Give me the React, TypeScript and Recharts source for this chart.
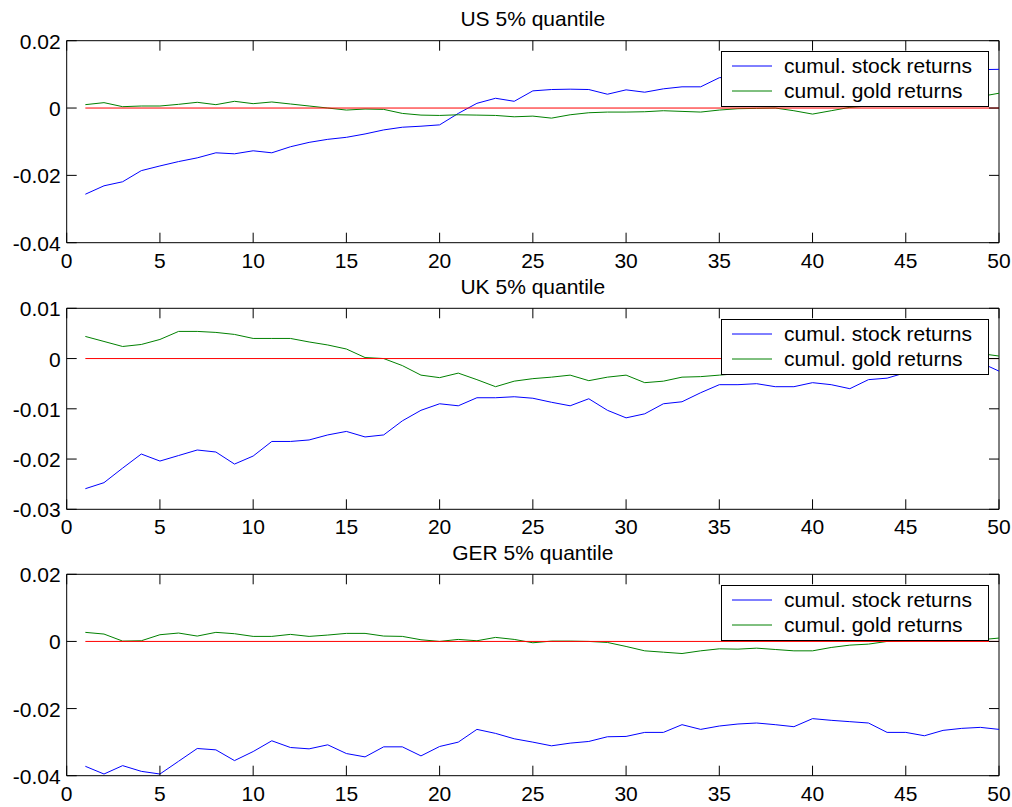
import React from 'react';
import { LineChart, Line, XAxis, YAxis, ReferenceLine, ReferenceArea, Legend } from 'recharts';

const steps = [
    1, 2, 3, 4, 5, 6, 7, 8, 9, 10, 11, 12, 13, 14, 15, 16, 17, 18, 19, 20, 21, 22, 23, 24, 25,
    26, 27, 28, 29, 30, 31, 32, 33, 34, 35, 36, 37, 38, 39, 40, 41, 42, 43, 44, 45, 46, 47, 48, 49, 50,
];
const xTicks = [0, 5, 10, 15, 20, 25, 30, 35, 40, 45, 50];

const usStock = [
    -0.0256, -0.0231, -0.0219, -0.0186, -0.0172, -0.0159, -0.0148, -0.0133, -0.0136, -0.0127,
    -0.0133, -0.0115, -0.0102, -0.0093, -0.0087, -0.0077, -0.0065, -0.0057, -0.0054, -0.005,
    -0.0016, 0.0014, 0.0029, 0.002, 0.0051, 0.0055, 0.0056, 0.0055, 0.0041, 0.0054,
    0.0047, 0.0057, 0.0063, 0.0063, 0.009, 0.0095, 0.01, 0.0104, 0.0098, 0.0102,
    0.0108, 0.0106, 0.0111, 0.0115, 0.011, 0.0113, 0.0117, 0.0112, 0.0114, 0.0115,
];
const usGold = [
    0.001, 0.0016, 0.0004, 0.0006, 0.0006, 0.0011, 0.0017, 0.001, 0.002, 0.0013,
    0.0018, 0.0012, 0.0006, 0.0, -0.0006, -0.0003, -0.0004, -0.0016, -0.0021, -0.0022,
    -0.002, -0.0021, -0.0022, -0.0026, -0.0024, -0.003, -0.002, -0.0014, -0.0012, -0.0012,
    -0.0011, -0.0008, -0.001, -0.0012, -0.0006, -0.0002, -0.0001, 0.0, -0.0008, -0.0018,
    -0.0008, 0.0002, 0.0006, 0.001, 0.0013, 0.0016, 0.0021, 0.0027, 0.0034, 0.0044,
];

const ukStock = [
    -0.0259, -0.0247, -0.0218, -0.019, -0.0204, -0.0193, -0.0182, -0.0186, -0.021, -0.0194,
    -0.0165, -0.0165, -0.0162, -0.0152, -0.0145, -0.0156, -0.0152, -0.0124, -0.0103, -0.009,
    -0.0094, -0.0078, -0.0078, -0.0076, -0.0079, -0.0087, -0.0094, -0.008, -0.0103, -0.0118,
    -0.011, -0.009, -0.0086, -0.0068, -0.0052, -0.0052, -0.005, -0.0056, -0.0056, -0.0048,
    -0.0052, -0.006, -0.0042, -0.0039, -0.0028, -0.0022, -0.0018, -0.0012, -0.0008, -0.0025,
];
const ukGold = [
    0.0044, 0.0034, 0.0024, 0.0028, 0.0038, 0.0054, 0.0054, 0.0052, 0.0048, 0.004,
    0.004, 0.004, 0.0033, 0.0027, 0.0019, 0.0002, 0.0, -0.0014, -0.0033, -0.0038,
    -0.0029, -0.0042, -0.0056, -0.0045, -0.004, -0.0037, -0.0033, -0.0044, -0.0037, -0.0033,
    -0.0048, -0.0045, -0.0037, -0.0036, -0.0033, -0.003, -0.0027, -0.0025, -0.002, -0.0017,
    -0.0014, -0.0011, -0.0008, -0.0005, -0.0002, 0.0001, 0.0003, 0.0005, 0.001, 0.0005,
];

const gerStock = [
    -0.0372, -0.0395, -0.037, -0.0387, -0.0395, -0.0357, -0.0319, -0.0323, -0.0355, -0.0328,
    -0.0296, -0.0316, -0.032, -0.0308, -0.0334, -0.0344, -0.0314, -0.0314, -0.0341, -0.0313,
    -0.03, -0.0262, -0.0274, -0.029, -0.03, -0.0311, -0.0303, -0.0298, -0.0284, -0.0283,
    -0.0271, -0.0271, -0.0248, -0.0262, -0.0252, -0.0246, -0.0243, -0.0248, -0.0254, -0.023,
    -0.0235, -0.0239, -0.0243, -0.0271, -0.0271, -0.0281, -0.0265, -0.0259, -0.0256, -0.0262,
];
const gerGold = [
    0.0027, 0.0022, 0.0001, 0.0002, 0.002, 0.0025, 0.0016, 0.0027, 0.0023, 0.0015,
    0.0015, 0.0021, 0.0015, 0.0019, 0.0024, 0.0024, 0.0016, 0.0015, 0.0005, 0.0,
    0.0006, 0.0002, 0.0012, 0.0006, -0.0004, 0.0001, 0.0001, 0.0, -0.0003, -0.0015,
    -0.0028, -0.0032, -0.0036, -0.0028, -0.0022, -0.0023, -0.002, -0.0024, -0.0028, -0.0028,
    -0.0018, -0.0011, -0.0008, 0.0, 0.0002, 0.0003, 0.0002, 0.0004, 0.0005, 0.001,
];

const usTicks = [-0.04, -0.02, 0, 0.02];
const ukTicks = [-0.03, -0.02, -0.01, 0, 0.01];
const gerTicks = [-0.04, -0.02, 0, 0.02];

const FONT = '"Liberation Sans", Arial, Helvetica, sans-serif';
const FS = 21;
const WIDTH = 1012;
const LEFT = 66.7;
const RIGHT = 13;
const PLOT_W = WIDTH - LEFT - RIGHT;
const TICK = 10;
const AXIS = 2; // thin axis band so the ticks get drawn

const fmtY = (v: number) => (v === 0 ? '0' : v.toFixed(2));

const LegendBox = () => (
    <div
        style={{
            width: 268,
            height: 56,
            boxSizing: 'border-box',
            border: '1px solid #000',
            background: '#fff',
        }}
    >
        <svg width={266} height={54} style={{ display: 'block' }}>
            <line x1={10} y1={14} x2={50} y2={14} stroke="#0000ff" />
            <text x={62} y={21} fontSize={FS} fontFamily={FONT} fill="#000">cumul. stock returns</text>
            <line x1={10} y1={39} x2={50} y2={39} stroke="#008000" />
            <text x={62} y={46} fontSize={FS} fontFamily={FONT} fill="#000">cumul. gold returns</text>
        </svg>
    </div>
);

interface PanelProps {
    title: string;
    stock: number[];
    gold: number[];
    yTicks: number[];
    top: number;
    height: number;
    marginTop: number;
    marginBottom: number;
}

const Panel: React.FC<PanelProps> = ({ title, stock, gold, yTicks, top, height, marginTop, marginBottom }) => {
    const data = steps.map((s, i) => ({ step: s, stock: stock[i], gold: gold[i] }));
    const plotH = height - marginTop - marginBottom;
    const yMin = yTicks[0];
    const yMax = yTicks[yTicks.length - 1];

    const renderXTick = (p: any) => (
        <g>
            <line x1={p.x} y1={p.y} x2={p.x} y2={p.y - TICK} stroke="#000" />
            <line x1={p.x} y1={p.y - plotH} x2={p.x} y2={p.y - plotH + TICK} stroke="#000" />
            <text x={p.x} y={p.y + 25} textAnchor="middle" fontSize={FS} fontFamily={FONT} fill="#000">
                {p.payload.value}
            </text>
        </g>
    );

    const renderYTick = (p: any) => (
        <g>
            <line x1={p.x} y1={p.y} x2={p.x + TICK} y2={p.y} stroke="#000" />
            <line x1={p.x + PLOT_W} y1={p.y} x2={p.x + PLOT_W - TICK} y2={p.y} stroke="#000" />
            <text x={p.x - 6} y={p.y + 8} textAnchor="end" fontSize={FS} fontFamily={FONT} fill="#000">
                {fmtY(p.payload.value)}
            </text>
        </g>
    );

    return (
        <div style={{ position: 'absolute', left: 0, top, width: WIDTH, height }}>
            <div
                style={{
                    position: 'absolute',
                    left: LEFT,
                    width: PLOT_W,
                    top: marginTop - 14.7 - 18,
                    textAlign: 'center',
                    fontFamily: FONT,
                    fontSize: FS,
                    lineHeight: '21px',
                    color: '#000',
                }}
            >
                {title}
            </div>
            <LineChart
                width={WIDTH}
                height={height}
                data={data}
                margin={{ top: marginTop, right: RIGHT, bottom: marginBottom - AXIS, left: LEFT - AXIS }}
            >
                <XAxis
                    dataKey="step"
                    type="number"
                    domain={[0, 50]}
                    ticks={xTicks}
                    height={AXIS}
                    tickSize={0}
                    tickMargin={0}
                    axisLine={false}
                    tickLine={false}
                    tick={renderXTick}
                    interval={0}
                />
                <YAxis
                    type="number"
                    domain={[yMin, yMax]}
                    ticks={yTicks}
                    width={AXIS}
                    tickSize={0}
                    tickMargin={0}
                    axisLine={false}
                    tickLine={false}
                    tick={renderYTick}
                    interval={0}
                    allowDataOverflow
                />
                <Line type="linear" dataKey="stock" stroke="#0000ff" strokeWidth={1} dot={false} isAnimationActive={false} />
                <Line type="linear" dataKey="gold" stroke="#008000" strokeWidth={1} dot={false} isAnimationActive={false} />
                <ReferenceLine segment={[{ x: 1, y: 0 }, { x: 50, y: 0 }]} stroke="#ff0000" strokeWidth={1} />
                <ReferenceArea x1={0} x2={50} y1={yMin} y2={yMax} fill="none" stroke="#000" strokeWidth={1} ifOverflow="visible" />
                <Legend
                    layout="vertical"
                    verticalAlign="middle"
                    align="center"
                    wrapperStyle={{ left: 720.7, top: marginTop + 10.5, width: 268, height: 56 }}
                    content={() => <LegendBox />}
                />
            </LineChart>
        </div>
    );
};

export default function App() {
    return (
        <div style={{ position: 'absolute', left: 0, top: 0, width: WIDTH, height: 807, background: '#fff' }}>
            <Panel title="US 5% quantile" stock={usStock} gold={usGold} yTicks={usTicks}
                top={0} height={280} marginTop={40.7} marginBottom={37.3} />
            <Panel title="UK 5% quantile" stock={ukStock} gold={ukGold} yTicks={ukTicks}
                top={270} height={276} marginTop={38.3} marginBottom={36.7} />
            <Panel title="GER 5% quantile" stock={gerStock} gold={gerGold} yTicks={gerTicks}
                top={536} height={271} marginTop={38.3} marginBottom={31.3} />
        </div>
    );
}
